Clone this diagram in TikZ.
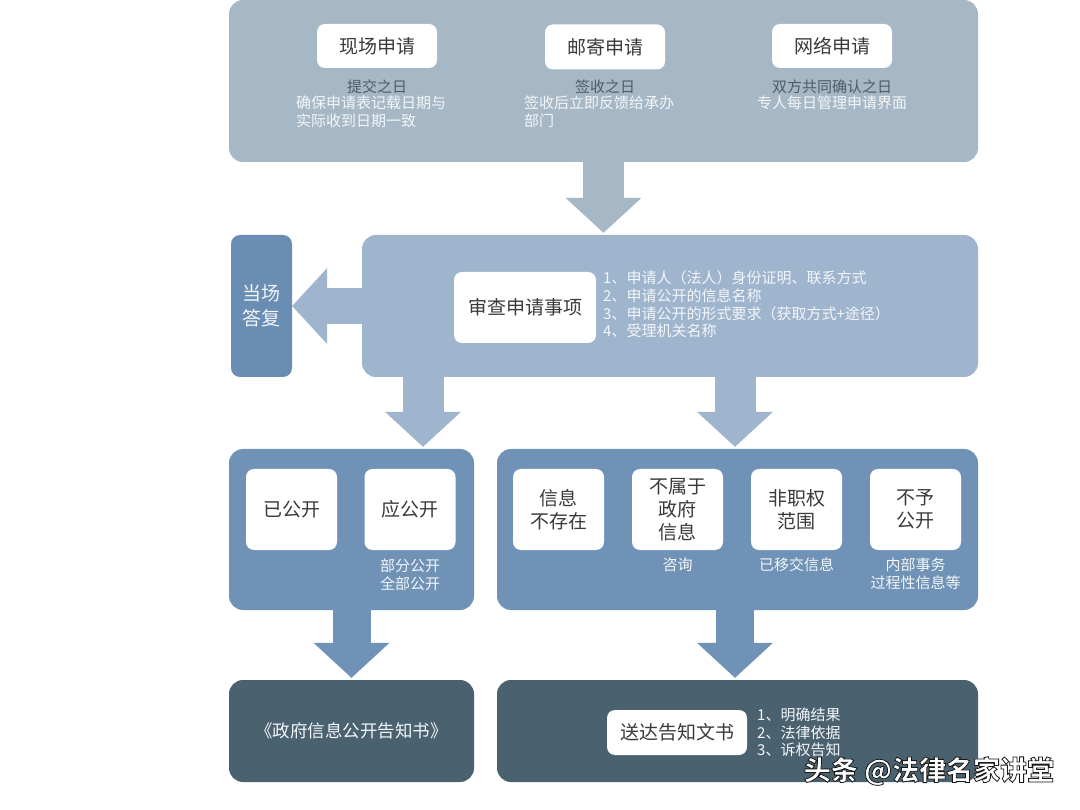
\documentclass[tikz,border=0pt]{standalone}
\usepackage{fontspec}
\setmainfont{Noto Sans CJK SC}
\usetikzlibrary{arrows.meta,positioning}
\definecolor{Slate}{HTML}{A6B8C5}
\definecolor{SlateText}{HTML}{4E5D68}
\definecolor{Sky}{HTML}{9FB5CE}
\definecolor{Steel}{HTML}{6A8DB3}
\definecolor{Mid}{HTML}{6F92B6}
\definecolor{Deep}{HTML}{4A6170}
\definecolor{Ink}{HTML}{3A3A3A}
\definecolor{Pale}{HTML}{F3F6F9}
\newcommand\outlined[1]{\special{pdf:literal direct 2 Tr 0.8 w 0.1 0.1 0.1 RG}#1\special{pdf:literal direct 0 Tr}}

\begin{document}
\begin{tikzpicture}[
  x=1pt,y=-1pt,
  panel/.style={rounded corners=14pt,inner sep=0pt},
  tile/.style={rounded corners=8pt,fill=white,inner sep=0pt,align=center,text=Ink,font={\fontsize{19}{23}\selectfont}},
  note/.style={inner sep=0pt,align=left,text=Pale,font={\fontsize{15}{18}\selectfont}},
  datelabel/.style={inner sep=0pt,text=SlateText,font={\fontsize{15}{18}\selectfont}},
  bigarrow/.style={line width=41pt,-{Triangle[length=35pt,width=76pt,line width=0pt]},shorten >=2pt}
]
\path[use as bounding box,fill=white] (0,0) rectangle (1080,810);
\node[panel,fill=Slate,minimum width=749pt,minimum height=162pt] (apply) at (603.5,81) {};
\node[tile,minimum width=120pt,minimum height=44pt] (onsite) at (377,46) {现场申请};
\node[tile,minimum width=120pt,minimum height=45pt] (mail) at (605,47) {邮寄申请};
\node[tile,minimum width=120pt,minimum height=44pt] (online) at (832,46) {网络申请};
\node[datelabel,below=11pt of onsite] (onsitedate) {提交之日};
\node[datelabel,below=10pt of mail] (maildate) {签收之日};
\node[datelabel,below=11pt of online] (onlinedate) {双方共同确认之日};
\node[note,anchor=west] (onsitenote) at (296,112) {确保申请表记载日期与\\实际收到日期一致};
\node[note,anchor=west] (mailnote) at (524,112) {签收后立即反馈给承办\\部门};
\node[note] (onlinenote) at (832,103) {专人每日管理申请界面};

\node[panel,fill=Sky,minimum width=616pt,minimum height=142pt] (review) at (670,306) {};
\node[panel,fill=Steel,rounded corners=9pt,minimum width=61pt,minimum height=142pt,align=center,text=Pale,font={\fontsize{19}{25}\selectfont}] (reply) at (261.5,306) {当场\\答复};
\node[tile,minimum width=142pt,minimum height=71pt] (check) at (525,307.5) {审查申请事项};
\node[note,anchor=west,font={\fontsize{15}{17.7}\selectfont}] (checklist) at (603,304.5) {1、申请人（法人）身份证明、联系方式\\2、申请公开的信息名称\\3、申请公开的形式要求（获取方式+途径）\\4、受理机关名称};

\node[panel,fill=Mid,minimum width=245pt,minimum height=161pt] (opened) at (351.5,529.5) {};
\node[panel,fill=Mid,minimum width=481pt,minimum height=161pt] (refused) at (737.5,529.5) {};
\node[tile,minimum width=91pt,minimum height=81pt] (published) at (291.5,509.5) {已公开};
\node[tile,minimum width=91pt,minimum height=81pt] (due) at (410,509.5) {应公开};
\node[tile,minimum width=91pt,minimum height=81pt] (nonexist) at (558.5,509.5) {信息\\不存在};
\node[tile,minimum width=91pt,minimum height=81pt] (notgov) at (677.5,509.5) {不属于\\政府\\信息};
\node[tile,minimum width=91pt,minimum height=81pt] (outscope) at (796.5,509.5) {非职权\\范围};
\node[tile,minimum width=91pt,minimum height=81pt] (exempt) at (915.5,509.5) {不予\\公开};
\node[note,align=center,below=8pt of due] (duenote) {部分公开\\全部公开};
\node[note,align=center,below=7pt of notgov] (notgovnote) {咨询};
\node[note,align=center,below=7pt of outscope] (outscopenote) {已移交信息};
\node[note,align=center,below=7pt of exempt] (exemptnote) {内部事务\\过程性信息等};

\node[panel,fill=Deep,minimum width=245pt,minimum height=102pt,text=Pale,font={\fontsize{17.5}{21}\selectfont}] (notice) at (351.5,731) {《政府信息公开告知书》};
\node[panel,fill=Deep,minimum width=481pt,minimum height=102pt] (deliver) at (737.5,731) {};
\node[tile,minimum width=140pt,minimum height=45pt] (paper) at (677,732.5) {送达告知文书};
\node[note,anchor=west,font={\fontsize{15}{17.5}\selectfont}] (paperlist) at (757,732.5) {1、明确结果\\2、法律依据\\3、诉权告知};

\coordinate (leftx) at (423,0);
\coordinate (rightx) at (735,0);
\draw[bigarrow,draw=Slate] (apply.south) -- (review.north -| apply.south);
\draw[bigarrow,draw=Sky,line width=36pt,shorten >=0pt] (review.west) -- (reply.east);
\draw[bigarrow,draw=Sky] (review.south -| leftx) -- (opened.north -| leftx);
\draw[bigarrow,draw=Sky] (review.south -| rightx) -- (refused.north -| rightx);
\draw[bigarrow,draw=Mid,line width=38pt] (opened.south) -- (notice.north);
\draw[bigarrow,draw=Mid,line width=38pt] (refused.south -| rightx) -- (deliver.north -| rightx);

\node[text=white,font={\fontsize{27}{30}\selectfont\bfseries}] (mark) at (929,771) {\outlined{头条 @法律名家讲堂}};
\end{tikzpicture}
\end{document}
